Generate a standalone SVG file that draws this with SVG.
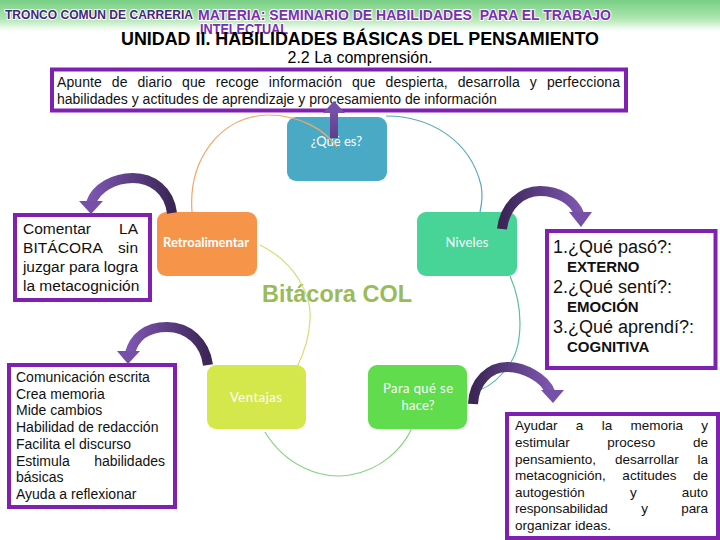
<svg xmlns="http://www.w3.org/2000/svg" width="720" height="540" viewBox="0 0 720 540">
<defs>
<linearGradient id="hdr" x1="0" y1="0" x2="0" y2="1">
<stop offset="0" stop-color="#78cf84"/>
<stop offset="0.6" stop-color="#aee6b0"/>
<stop offset="1" stop-color="#ffffff"/>
</linearGradient>
<linearGradient id="arrL" x1="1" y1="0" x2="0" y2="0">
<stop offset="0" stop-color="#3b2656"/>
<stop offset="1" stop-color="#7d55b0"/>
</linearGradient>
<linearGradient id="arrR" x1="0" y1="0" x2="1" y2="0">
<stop offset="0" stop-color="#3b2656"/>
<stop offset="1" stop-color="#7d55b0"/>
</linearGradient>
<linearGradient id="arrU" x1="0" y1="1" x2="0" y2="0">
<stop offset="0" stop-color="#5e3f8c"/>
<stop offset="1" stop-color="#7650a8"/>
</linearGradient>
</defs>
<style>
.hd{font-family:"Liberation Sans",Arial,sans-serif;font-weight:bold;stroke:#ffffff;stroke-width:2;paint-order:stroke;stroke-linejoin:round}
.ttl{font-family:"Liberation Sans",Arial,sans-serif;fill:#000}
.body{font-family:"Liberation Sans",Arial,sans-serif;fill:#111}
.box{fill:#ffffff;stroke:#8020b0;stroke-width:4}
.lbl{font-family:Lato,"Open Sans",sans-serif;fill:#ffffff;font-size:13px;text-anchor:middle}
.arc{fill:none;stroke-width:1.2}
.parr{fill:none;stroke-width:10}
</style>
<rect x="0" y="0" width="720" height="31" fill="url(#hdr)"/>
<text class="hd" x="5" y="19" font-size="12" fill="#44277a" textLength="188" lengthAdjust="spacingAndGlyphs">TRONCO COMUN DE CARRERIA</text>
<text class="hd" x="198" y="20" font-size="15" fill="#7a2fb0" textLength="413" lengthAdjust="spacingAndGlyphs" xml:space="preserve">MATERIA: SEMINARIO DE HABILIDADES  PARA EL TRABAJO</text>
<text class="hd" x="200" y="34" font-size="14" fill="#7a2fb0" textLength="88" lengthAdjust="spacingAndGlyphs">INTELECTUAL</text>
<text class="ttl" x="121" y="45" font-size="18" font-weight="bold" textLength="478" lengthAdjust="spacingAndGlyphs">UNIDAD II. HABILIDADES BÁSICAS DEL PENSAMIENTO</text>
<text class="ttl" x="360" y="63" font-size="16" text-anchor="middle">2.2 La comprensión.</text>

<g id="definicion">
<rect class="box" x="52" y="69.5" width="574" height="41" stroke-width="3.5"/>
<text class="body" x="57" y="87" font-size="14" word-spacing="6" textLength="563" lengthAdjust="spacing">Apunte de diario que recoge información que despierta, desarrolla y perfecciona</text>
<text class="body" x="57" y="104" font-size="14">habilidades y actitudes de aprendizaje y procesamiento de información</text>
</g>

<g id="que-es">
<rect x="287" y="117" width="100" height="64" rx="9" fill="#4aaac6"/>
<text class="lbl" x="336.5" y="146" font-size="14">¿Qué es?</text>
</g>
<g id="retroalimentar">
<rect x="157" y="212" width="100" height="64" rx="9" fill="#f6954a"/>
<text class="lbl" x="206" y="247" font-weight="bold" textLength="86" lengthAdjust="spacing">Retroalimentar</text>
</g>
<g id="niveles">
<rect x="417" y="212" width="100" height="64" rx="9" fill="#48d397"/>
<text class="lbl" x="467" y="247" textLength="43" lengthAdjust="spacing">Niveles</text>
</g>
<g id="ventajas">
<rect x="207" y="365" width="99" height="64" rx="9" fill="#d5e84b"/>
<text class="lbl" x="256" y="402" textLength="52" lengthAdjust="spacing">Ventajas</text>
</g>
<g id="para-que">
<rect x="368" y="365" width="99" height="64" rx="9" fill="#60dc4c"/>
<text class="lbl" x="418" y="393" textLength="70" lengthAdjust="spacing">Para qué se</text>
<text class="lbl" x="418" y="410" textLength="33" lengthAdjust="spacing">hace?</text>
</g>
<g id="centro">
<text x="337" y="302" font-family="Liberation Sans, Arial, sans-serif" font-weight="bold" font-size="23" fill="#9bbb59" text-anchor="middle" textLength="150" lengthAdjust="spacingAndGlyphs">Bitácora COL</text>
</g>

<g id="comentar">
<rect class="box" x="15" y="215" width="135" height="85"/>
<text class="body" x="23" y="234" font-size="15.5" word-spacing="23.7" textLength="115" lengthAdjust="spacing">Comentar LA</text>
<text class="body" x="23" y="253" font-size="15.5" word-spacing="11.7" textLength="115" lengthAdjust="spacing">BITÁCORA sin</text>
<text class="body" x="23" y="272" font-size="15.5" textLength="115" lengthAdjust="spacing">juzgar para logra</text>
<text class="body" x="23" y="291" font-size="15.5">la metacognición</text>
</g>

<g id="niveles-lista">
<rect class="box" x="547" y="231" width="168.5" height="137"/>
<text class="body" x="553" y="253" font-size="18">1.¿Qué pasó?:</text>
<text class="body" x="567" y="272" font-size="15" font-weight="bold">EXTERNO</text>
<text class="body" x="553" y="293" font-size="18">2.¿Qué sentí?:</text>
<text class="body" x="567" y="312" font-size="15" font-weight="bold">EMOCIÓN</text>
<text class="body" x="553" y="333" font-size="18">3.¿Qué aprendí?:</text>
<text class="body" x="567" y="352" font-size="15" font-weight="bold">COGNITIVA</text>
</g>

<g id="ventajas-lista">
<rect class="box" x="9" y="365" width="166" height="142"/>
<text class="body" x="16" y="382" font-size="14">Comunicación escrita</text>
<text class="body" x="16" y="399" font-size="14">Crea memoria</text>
<text class="body" x="16" y="415" font-size="14">Mide cambios</text>
<text class="body" x="16" y="432" font-size="14">Habilidad de redacción</text>
<text class="body" x="16" y="449" font-size="14">Facilita el discurso</text>
<text class="body" x="16" y="466" font-size="14" word-spacing="20.6" textLength="149" lengthAdjust="spacing">Estimula habilidades</text>
<text class="body" x="16" y="482" font-size="14">básicas</text>
<text class="body" x="16" y="499" font-size="14">Ayuda a reflexionar</text>
</g>

<g id="para-que-texto">
<rect class="box" x="507" y="414" width="211" height="124"/>
<text class="body" x="515" y="430" font-size="13.5" word-spacing="14.5" textLength="193" lengthAdjust="spacing">Ayudar a la memoria y</text>
<text class="body" x="515" y="447" font-size="13.5" word-spacing="33.9" textLength="193" lengthAdjust="spacing">estimular proceso de</text>
<text class="body" x="515" y="464" font-size="13.5" word-spacing="15.1" textLength="193" lengthAdjust="spacing">pensamiento, desarrollar la</text>
<text class="body" x="515" y="480" font-size="13.5" word-spacing="12.8" textLength="193" lengthAdjust="spacing">metacognición, actitudes de</text>
<text class="body" x="515" y="497" font-size="13.5" word-spacing="41.3" textLength="193" lengthAdjust="spacing">autogestión y auto</text>
<text class="body" x="515" y="513" font-size="13.5" word-spacing="29.9" textLength="193" lengthAdjust="spacing">responsabilidad y para</text>
<text class="body" x="515" y="530" font-size="13.5">organizar ideas.</text>
</g>

<g id="connectors">
<path class="arc" stroke="#f0a868" d="M192,212 C188,160 220,116 268,115 C300,115 325,130 337,147"/>
<path class="arc" stroke="#5aa8bc" d="M386,116 C430,116 470,140 481,185 C483,195 482,203 480,212"/>
<path class="arc" stroke="#d6dc78" d="M260,245 C295,262 312,295 310,320 C309,340 303,355 297,367"/>
<path class="arc" stroke="#84d47e" d="M265,432 C285,465 320,480 350,475 C380,470 402,450 412,428"/>
<path class="arc" stroke="#58c0a4" d="M510,276 C525,310 522,350 508,366 C500,378 490,386 480,390"/>

<path class="parr" stroke="url(#arrL)" d="M172,213 C169,190 152,178 133,178 S96,188 91,203"/>
<polygon points="79,201 103,201 91,214" fill="#7650a8"/>
<path class="parr" stroke="url(#arrR)" d="M502,229 C505,205 522,191 540,191 S574,200 579,214"/>
<polygon points="569,212 592,212 581,227" fill="#7650a8"/>
<path class="parr" stroke="url(#arrL)" d="M208,365 C205,342 188,327 167,327 S134,338 130,353"/>
<polygon points="117,351 140,351 128,364" fill="#7650a8"/>
<path class="parr" stroke="url(#arrR)" d="M473,404 C474,381 490,367 507,367 S545,378 550,392"/>
<polygon points="541,390 564,390 553,403" fill="#7650a8"/>

<rect x="330" y="111" width="8" height="27" fill="url(#arrU)"/>
<polygon points="323,113 345,113 334,101" fill="#7650a8"/>
</g>
</svg>
